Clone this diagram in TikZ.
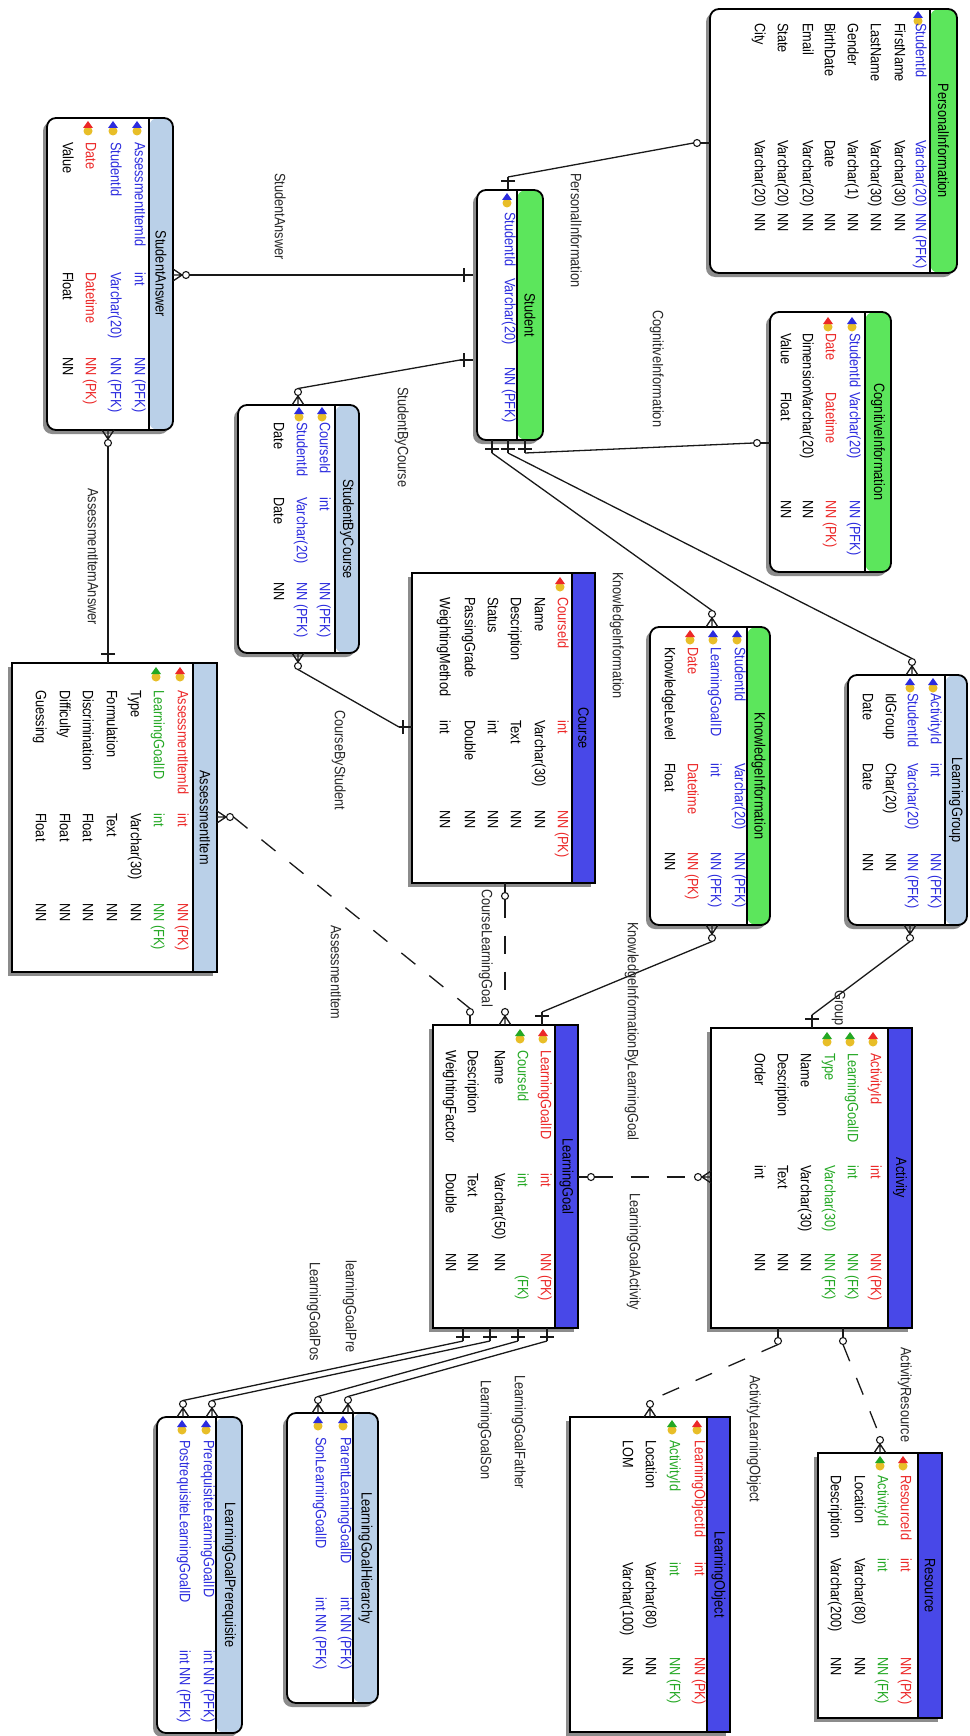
\documentclass[tikz,border=0pt]{standalone}
\usepackage{fontspec}
\newfontfamily\erfont[FakeStretch=0.85]{Liberation Sans}
\usetikzlibrary{calc,shadows}

\definecolor{hdrgreen}{RGB}{92,230,92}
\definecolor{hdrblue}{RGB}{186,208,232}
\definecolor{hdrdark}{RGB}{72,72,232}
\definecolor{pkred}{RGB}{236,40,40}
\definecolor{pfkblue}{RGB}{44,44,222}
\definecolor{fkgreen}{RGB}{36,168,36}
\definecolor{keyyellow}{RGB}{232,190,40}
\definecolor{shadowgray}{RGB}{140,140,140}

\newcounter{fld}
% column positions (along the table) of key icon, name, type and null flag
\newcommand{\columns}[4]{\def\icony{#1}\def\namey{#2}\def\typey{#3}\def\nully{#4}}

% one attribute line: #1 position across the table, #2 colour, #3 name, #4 type, #5 null flag
\newcommand{\fieldrow}[5]{%
  \stepcounter{fld}%
  \node[txt,text=#2] (f\arabic{fld}a) at (#1,\namey) {#3};
  \node[txt,text=#2] (f\arabic{fld}b) at (#1,\typey) {#4};
  \node[txt,text=#2] (f\arabic{fld}c) at (#1,\nully) {#5};
}
\newcommand{\keyicon}[2]{%
  \fill[keyyellow] (#1,\icony+10) circle (4.5pt);
  \fill[#2] (#1-5,\icony+7) -- (#1+5,\icony+7) -- (#1,\icony) -- cycle;
}
\newcommand{\keyrow}[5]{\keyicon{#1}{#2}\fieldrow{#1}{#2}{#3}{#4}{#5}}

% entity box: #1 name, #2 box style, #3..#6 corners, #7 header edge, #8 header colour, #9 title
\newcommand{\entity}[9]{%
  \pgfmathsetmacro{\ew}{#5-#3}%
  \pgfmathsetmacro{\eh}{#6-#4}%
  \pgfmathsetmacro{\hw}{#7-#5}%
  \node[#2, minimum width=\ew pt, minimum height=\eh pt,
        path picture={
          \fill[#8] ($(path picture bounding box.north east)+(\hw,0)$)
                    rectangle (path picture bounding box.south east);
          \draw[line width=1.8pt] ($(path picture bounding box.north east)+(\hw,0)$)
                    -- ($(path picture bounding box.south east)+(\hw,0)$);}]
     (#1) at ({(#3+#5)/2},{(#4+#6)/2}) {};
  \node[ttl] (#1-title) at ({(#7+#5)/2},{(#4+#6)/2}) {#9};
}

% relationship ends: #1 coordinate name, #2 #3 point on the box edge, #4 #5 outward direction
\newcommand{\oneside}[5]{%
  \draw[link] (#2,#3) -- ({#2+13*(#4)},{#3+13*(#5)});
  \draw[link] ({#2+9*(#4)-7*(#5)},{#3+9*(#5)-7*(#4)}) -- ({#2+9*(#4)+7*(#5)},{#3+9*(#5)+7*(#4)});
  \coordinate (#1) at ({#2+13*(#4)},{#3+13*(#5)});
}
\newcommand{\manyside}[5]{%
  \draw[link] ({#2+9*(#4)},{#3+9*(#5)}) -- ({#2-6*(#5)},{#3-6*(#4)})
              ({#2+9*(#4)},{#3+9*(#5)}) -- (#2,#3)
              ({#2+9*(#4)},{#3+9*(#5)}) -- ({#2+6*(#5)},{#3+6*(#4)});
  \draw[link,line width=1.1pt] ({#2+13*(#4)},{#3+13*(#5)}) circle (3.5pt);
  \coordinate (#1) at ({#2+16.5*(#4)},{#3+16.5*(#5)});
}
\newcommand{\zeroside}[5]{%
  \draw[link] (#2,#3) -- ({#2+9.5*(#4)},{#3+9.5*(#5)});
  \draw[link,line width=1.1pt] ({#2+13*(#4)},{#3+13*(#5)}) circle (3.5pt);
  \coordinate (#1) at ({#2+16.5*(#4)},{#3+16.5*(#5)});
}

\tikzset{
  txt/.style={rotate=-90, anchor=mid west, inner sep=0pt},
  ttl/.style={rotate=-90, anchor=center, inner sep=0pt},
  lbl/.style={rotate=-90, anchor=mid west, inner sep=0pt, text=black!85},
  tablebox/.style={draw=black, line width=1.8pt, fill=white, inner sep=0pt, outer sep=0pt,
    drop shadow={shadow xshift=-4pt, shadow yshift=-4pt, fill=shadowgray, opacity=1}},
  roundbox/.style={tablebox, rounded corners=9pt},
  link/.style={line width=1.3pt, black!90},
  dashlink/.style={link, dash pattern=on 18pt off 18pt},
}

\begin{document}
\begin{tikzpicture}[x=1pt, y=-1pt, font=\erfont\fontsize{15}{18}\selectfont]
\useasboundingbox (0,0) rectangle (969,1736);
\fill[white] (0,0) rectangle (969,1736);

% ---------------- entities ----------------
\entity{personal}{roundbox}{710}{9}{957}{273}{930}{hdrgreen}{PersonalInformation}
\columns{11}{23}{140}{213}
\keyrow{918}{pfkblue}{StudentId}{Varchar(20)}{NN (PFK)}
\fieldrow{897}{black}{FirstName}{Varchar(30)}{NN}
\fieldrow{873}{black}{LastName}{Varchar(30)}{NN}
\fieldrow{850}{black}{Gender}{Varchar(1)}{NN}
\fieldrow{827}{black}{BirthDate}{Date}{NN}
\fieldrow{805}{black}{Email}{Varchar(20)}{NN}
\fieldrow{780}{black}{State}{Varchar(20)}{NN}
\fieldrow{757}{black}{City}{Varchar(20)}{NN}

\entity{student}{roundbox}{477}{190}{543}{440}{517}{hdrgreen}{Student}
\columns{193}{212}{278}{367}
\keyrow{507}{pfkblue}{StudentId}{Varchar(20)}{NN (PFK)}

\entity{answer}{roundbox}{47}{118}{173}{430}{149}{hdrblue}{StudentAnswer}
\columns{121}{142}{272}{357}
\keyrow{137}{pfkblue}{AssessmentItemId}{int}{NN (PFK)}
\keyrow{113}{pfkblue}{StudentId}{Varchar(20)}{NN (PFK)}
\keyrow{88}{pkred}{Date}{Datetime}{NN (PK)}
\fieldrow{65}{black}{Value}{Float}{NN}

\entity{cognitive}{roundbox}{770}{312}{891}{572}{865}{hdrgreen}{CognitiveInformation}
\columns{317}{333}{392}{500}
\keyrow{852}{pfkblue}{StudentId}{Varchar(20)}{NN (PFK)}
\keyrow{828}{pkred}{Date}{Datetime}{NN (PK)}
\fieldrow{805}{black}{Dimension}{Varchar(20)}{NN}
\fieldrow{783}{black}{Value}{Float}{NN}

\entity{bycourse}{roundbox}{238}{405}{359}{653}{335}{hdrblue}{StudentByCourse}
\columns{407}{422}{497}{582}
\keyrow{322}{pfkblue}{CourseId}{int}{NN (PFK)}
\keyrow{299}{pfkblue}{StudentId}{Varchar(20)}{NN (PFK)}
\fieldrow{276}{black}{Date}{Date}{NN}

\entity{course}{tablebox}{412}{573}{595}{883}{572}{hdrdark}{Course}
\columns{577}{597}{720}{810}
\keyrow{560}{pkred}{CourseId}{int}{NN (PK)}
\fieldrow{537}{black}{Name}{Varchar(30)}{NN}
\fieldrow{513}{black}{Description}{Text}{NN}
\fieldrow{490}{black}{Status}{int}{NN}
\fieldrow{467}{black}{PassingGrade}{Double}{NN}
\fieldrow{442}{black}{WeightingMethod}{int}{NN}

\entity{knowledge}{roundbox}{650}{627}{770}{925}{747}{hdrgreen}{KnowledgeInformation}
\columns{630}{647}{763}{852}
\keyrow{737}{pfkblue}{StudentId}{Varchar(20)}{NN (PFK)}
\keyrow{713}{pfkblue}{LearningGoalID}{int}{NN (PFK)}
\keyrow{690}{pkred}{Date}{Datetime}{NN (PK)}
\fieldrow{667}{black}{KnowledgeLevel}{Float}{NN}

\entity{group}{roundbox}{848}{675}{967}{925}{945}{hdrblue}{LearningGroup}
\columns{678}{693}{763}{853}
\keyrow{933}{pfkblue}{ActivityId}{int}{NN (PFK)}
\keyrow{910}{pfkblue}{StudentId}{Varchar(20)}{NN (PFK)}
\fieldrow{888}{black}{IdGroup}{Char(20)}{NN}
\fieldrow{865}{black}{Date}{Date}{NN}

\entity{item}{tablebox}{12}{663}{217}{972}{193}{hdrblue}{AssessmentItem}
\columns{667}{690}{813}{903}
\keyrow{180}{pkred}{AssessmentItemId}{int}{NN (PK)}
\keyrow{156}{fkgreen}{LearningGoalID}{int}{NN (FK)}
\fieldrow{133}{black}{Type}{Varchar(30)}{NN}
\fieldrow{109}{black}{Formulation}{Text}{NN}
\fieldrow{85}{black}{Discrimination}{Float}{NN}
\fieldrow{62}{black}{Difficulty}{Float}{NN}
\fieldrow{38}{black}{Guessing}{Float}{NN}

\entity{activity}{tablebox}{711}{1028}{912}{1328}{888}{hdrdark}{Activity}
\columns{1032}{1053}{1165}{1253}
\keyrow{873}{pkred}{ActivityId}{int}{NN (PK)}
\keyrow{850}{fkgreen}{LearningGoalID}{int}{NN (FK)}
\keyrow{827}{fkgreen}{Type}{Varchar(30)}{NN (FK)}
\fieldrow{803}{black}{Name}{Varchar(30)}{NN}
\fieldrow{780}{black}{Description}{Text}{NN}
\fieldrow{757}{black}{Order}{int}{NN}

\entity{goal}{tablebox}{433}{1025}{578}{1328}{555}{hdrdark}{LearningGoal}
\columns{1029}{1050}{1173}{1253}
\keyrow{543}{pkred}{LearningGoalID}{int}{NN (PK)}
\keyrow{520}{fkgreen}{CourseId}{int}{\phantom{NN} (FK)}
\fieldrow{497}{black}{Name}{Varchar(50)}{NN}
\fieldrow{470}{black}{Description}{Text}{NN}
\fieldrow{448}{black}{WeightingFactor}{Double}{NN}

\entity{resource}{tablebox}{818}{1453}{942}{1718}{918}{hdrdark}{Resource}
\columns{1456}{1475}{1558}{1657}
\keyrow{903}{pkred}{ResourceId}{int}{NN (PK)}
\keyrow{880}{fkgreen}{ActivityId}{int}{NN (FK)}
\fieldrow{857}{black}{Location}{Varchar(80)}{NN}
\fieldrow{833}{black}{Description}{Varchar(200)}{NN}

\entity{lobject}{tablebox}{570}{1417}{730}{1732}{707}{hdrdark}{LearningObject}
\columns{1420}{1440}{1562}{1657}
\keyrow{697}{pkred}{LearningObjectId}{int}{NN (PK)}
\keyrow{672}{fkgreen}{ActivityId}{int}{NN (FK)}
\fieldrow{648}{black}{Location}{Varchar(80)}{NN}
\fieldrow{625}{black}{LOM}{Varchar(100)}{NN}

\entity{hierarchy}{roundbox}{287}{1413}{378}{1703}{353}{hdrblue}{LearningGoalHierarchy}
\columns{1416}{1437}{1597}{1700}
\keyrow{343}{pfkblue}{ParentLearningGoalID}{int NN (PFK)}{}
\keyrow{318}{pfkblue}{SonLearningGoalID}{int NN (PFK)}{}

\entity{prereq}{roundbox}{157}{1417}{242}{1733}{216}{hdrblue}{LearningGoalPrerequisite}
\columns{1420}{1440}{1650}{1730}
\keyrow{206}{pfkblue}{PrerequisiteLearningGoalID}{int NN (PFK)}{}
\keyrow{182}{pfkblue}{PostrequisiteLearningGoalID}{int NN (PFK)}{}

% ---------------- relationships ----------------
% Student -- PersonalInformation
\oneside{s1}{508}{190}{0}{-1}
\zeroside{p1}{710}{143}{-1}{0}
\draw[link] (s1) -- (p1);
% Student -- StudentAnswer
\oneside{s2}{473}{275}{-1}{0}
\manyside{a2}{173}{275}{1}{0}
\draw[link] (s2) -- (a2);
% Student -- StudentByCourse
\oneside{s3}{473}{360}{-1}{0}
\manyside{b3}{298}{405}{0}{-1}
\draw[link] (s3) -- (b3);
% Student -- KnowledgeInformation
\oneside{s4}{492}{440}{0}{1}
\manyside{k4}{712}{627}{0}{-1}
\draw[link] (s4) -- (k4);
% Student -- LearningGroup
\oneside{s5}{508}{440}{0}{1}
\manyside{g5}{912}{675}{0}{-1}
\draw[link] (s5) -- (g5);
% Student -- CognitiveInformation
\oneside{s6}{525}{440}{0}{1}
\zeroside{c6}{770}{443}{-1}{0}
\draw[link] (s6) -- (c6);
% StudentAnswer -- AssessmentItem
\manyside{a7}{108}{430}{0}{1}
\oneside{i7}{108}{663}{0}{-1}
\draw[link] (a7) -- (i7);
% StudentByCourse -- Course
\manyside{b8}{298}{653}{0}{1}
\oneside{c8}{412}{727}{-1}{0}
\draw[link] (b8) -- (c8);
% Course -- LearningGoal
\zeroside{c9}{505}{883}{0}{1}
\manyside{l9}{505}{1025}{0}{-1}
\draw[dashlink] (c9) -- (l9);
% AssessmentItem -- LearningGoal
\manyside{i10}{217}{817}{1}{0}
\zeroside{l10}{470}{1025}{0}{-1}
\draw[dashlink] (i10) -- (l10);
% KnowledgeInformation -- LearningGoal
\manyside{k11}{712}{925}{0}{1}
\oneside{l11}{542}{1025}{0}{-1}
\draw[link] (k11) -- (l11);
% LearningGroup -- Activity
\manyside{g12}{910}{925}{0}{1}
\oneside{a12}{812}{1028}{0}{-1}
\draw[link] (g12) -- (a12);
% LearningGoal -- Activity
\zeroside{l13}{578}{1177}{1}{0}
\manyside{a13}{711}{1177}{-1}{0}
\draw[dashlink] (l13) -- (a13);
% Activity -- Resource
\zeroside{a14}{843}{1328}{0}{1}
\manyside{r14}{880}{1453}{0}{-1}
\draw[dashlink] (a14) -- (r14);
% Activity -- LearningObject
\zeroside{a15}{778}{1328}{0}{1}
\manyside{o15}{650}{1417}{0}{-1}
\draw[dashlink] (a15) -- (o15);
% LearningGoal -- LearningGoalPrerequisite / LearningGoalHierarchy
\oneside{l16}{463}{1328}{0}{1}
\manyside{p16}{183}{1417}{0}{-1}
\draw[link] (l16) -- (p16);
\oneside{l17}{490}{1328}{0}{1}
\manyside{p17}{212}{1417}{0}{-1}
\draw[link] (l17) -- (p17);
\oneside{l18}{518}{1328}{0}{1}
\manyside{h18}{318}{1413}{0}{-1}
\draw[link] (l18) -- (h18);
\oneside{l19}{547}{1328}{0}{1}
\manyside{h19}{348}{1413}{0}{-1}
\draw[link] (l19) -- (h19);

% ---------------- relationship names ----------------
\node[lbl] (lPersonal) at (573,173) {PersonalInformation};
\node[lbl] (lCognitive) at (655,310) {CognitiveInformation};
\node[lbl] (lAnswer) at (277,173) {StudentAnswer};
\node[lbl] (lByCourse) at (400,387) {StudentByCourse};
\node[lbl] (lItemAnswer) at (90,488) {AssessmentItemAnswer};
\node[lbl] (lCourseBy) at (337,710) {CourseByStudent};
\node[lbl] (lKnowledge) at (615,572) {KnowledgeInformation};
\node[lbl] (lCourseGoal) at (484,889) {CourseLearningGoal};
\node[lbl] (lItem) at (333,925) {AssessmentItem};
\node[lbl] (lKnowGoal) at (630,922) {KnowledgeInformationByLearningGoal};
\node[lbl] (lGroup) at (837,990) {Group};
\node[lbl] (lGoalAct) at (632,1193) {LearningGoalActivity};
\node[lbl] (lPre) at (348,1260) {learningGoalPre};
\node[lbl] (lPos) at (312,1262) {LearningGoalPos};
\node[lbl] (lSon) at (483,1380) {LearningGoalSon};
\node[lbl] (lFather) at (517,1375) {LearningGoalFather};
\node[lbl] (lActObj) at (752,1375) {ActivityLearningObject};
\node[lbl] (lActRes) at (903,1347) {ActivityResource};
\end{tikzpicture}
\end{document}
